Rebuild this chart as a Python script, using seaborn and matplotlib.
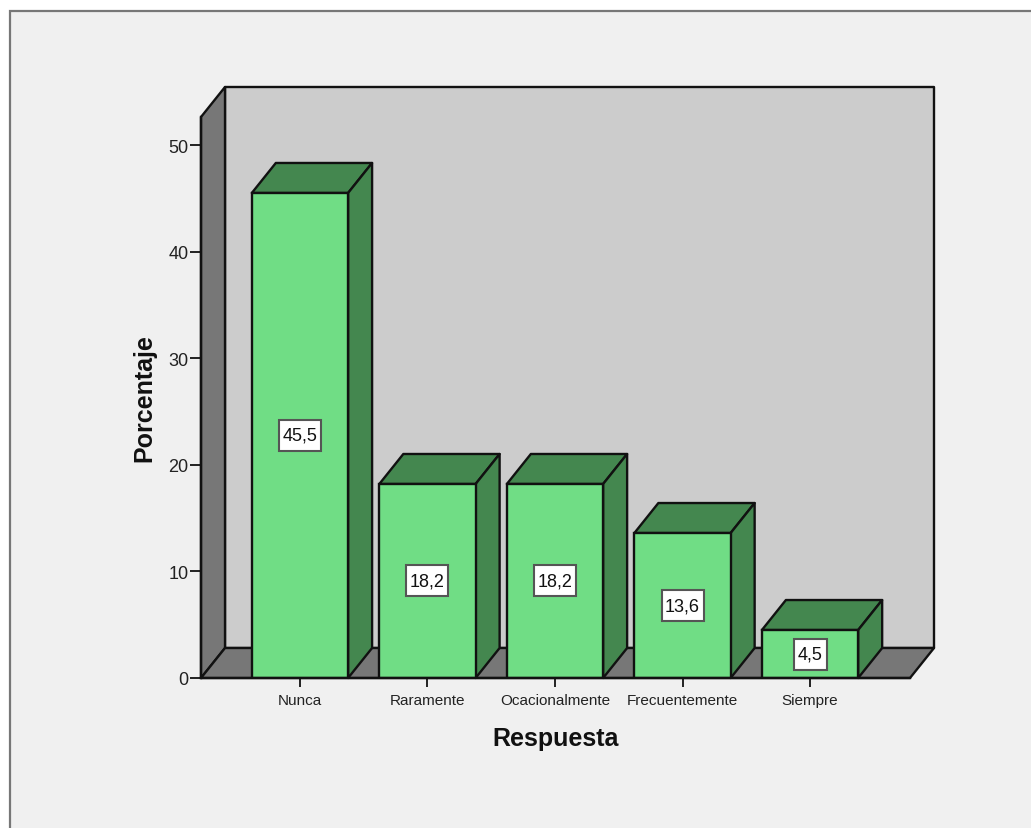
import matplotlib
matplotlib.use("Agg")
import matplotlib.pyplot as plt
from matplotlib.patches import Polygon, Rectangle
from matplotlib.transforms import ScaledTranslation
import pandas as pd
import seaborn as sns

categories = ["Nunca", "Raramente", "Ocacionalmente", "Frecuentemente", "Siempre"]
percentages = [45.5, 18.2, 18.2, 13.6, 4.5]
value_labels = ["45,5", "18,2", "18,2", "13,6", "4,5"]
y_ticks = [0, 10, 20, 30, 40, 50]

FACE = "#70dd85"
SHADE = "#44874f"
WALL = "#cccccc"
SIDE = "#777777"
PANEL = "#f0f0f0"
EDGE = "#111111"

W, H = 1031, 829
sns.set_theme(style="white")
plt.rcParams["font.family"] = ["Liberation Sans", "DejaVu Sans"]

fig = plt.figure(figsize=(W / 100, H / 100), dpi=100, facecolor="white")

# Dialog-style panel behind the plot, open at the right and bottom edges
fig.add_artist(Rectangle((10 / W, -0.01), 1.02, 1.01 - 11.5 / H, transform=fig.transFigure,
                         facecolor=PANEL, edgecolor="#777777", linewidth=1.6, zorder=-5))

ax = fig.add_axes([201 / W, 1 - 679 / H, (910 - 201) / W, (679 - 118) / H])
ax.patch.set_alpha(0)

data = pd.DataFrame({"Respuesta": categories, "Porcentaje": percentages})
sns.barplot(data=data, x="Respuesta", y="Porcentaje", color=FACE, saturation=1,
            width=0.755, edgecolor=EDGE, linewidth=1.7, ax=ax, zorder=5)

ax.set_xlim(-0.776, 4.784)
ax.set_ylim(0, 561 / 10.66)

# Oblique projection offset of the back plane, in data units
DX = 24 / 127.5
DY = 30 / 10.66
x0, x1 = ax.get_xlim()
y1 = ax.get_ylim()[1]


def face(points, color, z):
    ax.add_patch(Polygon(points, closed=True, facecolor=color, edgecolor=EDGE,
                         linewidth=1.7, joinstyle="round", clip_on=False, zorder=z))


# Back wall, left wall and floor of the box
face([(x0 + DX, DY), (x1 + DX, DY), (x1 + DX, y1 + DY), (x0 + DX, y1 + DY)], WALL, 1)
face([(x0, 0), (x0 + DX, DY), (x0 + DX, y1 + DY), (x0, y1)], SIDE, 2)
face([(x0, 0), (x1, 0), (x1 + DX, DY), (x0 + DX, DY)], SIDE, 2)

# Top and side faces of each bar, plus its boxed value
for bar, text in zip(list(ax.patches)[:len(categories)], value_labels):
    left, right, top = bar.get_x(), bar.get_x() + bar.get_width(), bar.get_height()
    face([(left, top), (right, top), (right + DX, top + DY), (left + DX, top + DY)], SHADE, 4)
    face([(right, 0), (right + DX, DY), (right + DX, top + DY), (right, top)], SHADE, 4)

    cx, cy = (left + right) / 2, top / 2
    box_w = (33 if len(text) == 3 else 42) / 100
    box_h = 31 / 100
    anchor = fig.dpi_scale_trans + ScaledTranslation(cx, cy, ax.transData)
    ax.add_patch(Rectangle((-box_w / 2, -box_h / 2), box_w, box_h, transform=anchor,
                           facecolor="white", edgecolor="#555555", linewidth=1.5, zorder=7))
    ax.text(cx, cy, text, ha="center", va="center", fontsize=13,
            color="#111111", zorder=8)

for spine in ("top", "right"):
    ax.spines[spine].set_visible(False)
for spine in ("left", "bottom"):
    ax.spines[spine].set_linewidth(1.7)
    ax.spines[spine].set_color(EDGE)
    ax.spines[spine].set_zorder(6)

ax.set_yticks(y_ticks)
ax.tick_params(axis="y", left=True, length=8, width=1.4, color="#222222",
               labelsize=13, labelcolor="#222222", pad=1)
ax.tick_params(axis="x", bottom=True, length=6.7, width=1.4, color="#222222",
               labelsize=11, labelcolor="#222222", pad=4)

ax.set_xlabel("Respuesta", fontsize=18, fontweight="bold", color="#111111", labelpad=14)
ax.set_ylabel("Porcentaje", fontsize=18, fontweight="bold", color="#111111", labelpad=9)

fig.savefig("out.png", dpi=100, facecolor="white")
